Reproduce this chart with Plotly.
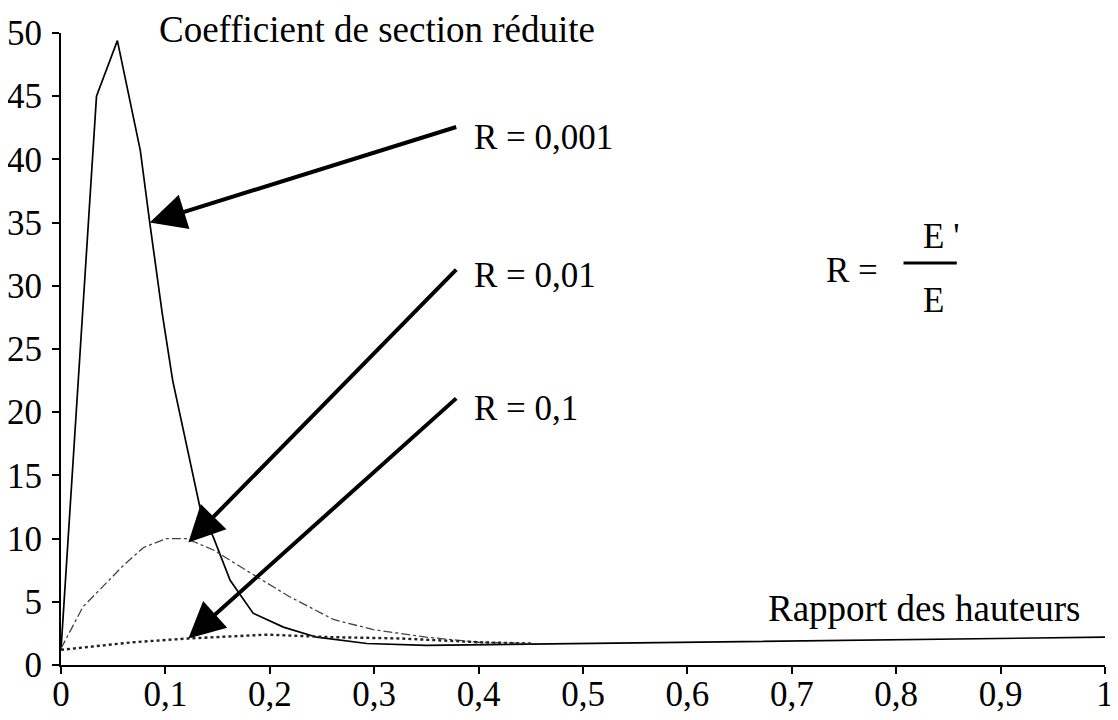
import plotly.graph_objects as go

# --- data ---
x_r0001 = [0, 0.034, 0.054, 0.076, 0.085, 0.097, 0.107, 0.119, 0.133, 0.146, 0.162, 0.184, 0.213, 0.245, 0.293, 0.35, 0.4, 0.5, 0.6, 0.7, 0.8, 0.9, 1.0]
y_r0001 = [1.2, 45, 49.4, 40.7, 35, 27.8, 22.5, 17.8, 12.5, 10.1, 6.7, 4.1, 3.0, 2.2, 1.7, 1.55, 1.6, 1.75, 1.8, 1.9, 2.0, 2.1, 2.2]

x_r001 = [0, 0.021, 0.040, 0.060, 0.079, 0.101, 0.120, 0.146, 0.187, 0.219, 0.261, 0.299, 0.35, 0.4, 0.45]
y_r001 = [1.3, 4.6, 6.2, 7.9, 9.3, 10.0, 10.0, 9.1, 7.0, 5.4, 3.6, 2.8, 2.2, 1.8, 1.7]

x_r01 = [0, 0.069, 0.122, 0.197, 0.26, 0.325, 0.4, 0.45]
y_r01 = [1.2, 1.8, 2.1, 2.4, 2.2, 2.1, 1.8, 1.7]

x_ticks = [0, 0.1, 0.2, 0.3, 0.4, 0.5, 0.6, 0.7, 0.8, 0.9, 1]
x_tick_labels = ["0", "0,1", "0,2", "0,3", "0,4", "0,5", "0,6", "0,7", "0,8", "0,9", "1"]
y_ticks = [0, 5, 10, 15, 20, 25, 30, 35, 40, 45, 50]

labels = ["R = 0,001", "R = 0,01", "R = 0,1"]
# arrow head (x, y) and tail (x, y) in data units
arrow_heads = [(0.085, 35.0), (0.122, 9.7), (0.122, 2.1)]
arrow_tails = [(0.380, 42.6), (0.380, 31.4), (0.380, 21.2)]
label_pos = [(0.394, 41.7), (0.394, 30.8), (0.394, 20.3)]

FONT = "Liberation Serif, Times New Roman, serif"
FS = 35
FS_T = 37

fig = go.Figure()
fig.add_trace(go.Scatter(x=x_r0001, y=y_r0001, mode="lines",
                         line=dict(color="black", width=1.7), showlegend=False))
fig.add_trace(go.Scatter(x=x_r001, y=y_r001, mode="lines",
                         line=dict(color="#444444", width=1.3, dash="dashdot"), showlegend=False))
fig.add_trace(go.Scatter(x=x_r01, y=y_r01, mode="lines",
                         line=dict(color="#222222", width=2.4, dash="dot"), showlegend=False))

for (hx, hy), (tx, ty) in zip(arrow_heads, arrow_tails):
    fig.add_annotation(x=hx, y=hy, ax=tx, ay=ty, xref="x", yref="y", axref="x", ayref="y",
                       text="", showarrow=True, arrowhead=2, arrowsize=1.8, arrowwidth=4,
                       arrowcolor="black")
for lab, (lx, ly) in zip(labels, label_pos):
    fig.add_annotation(x=lx, y=ly, xref="x", yref="y", text=lab, showarrow=False,
                       xanchor="left", yanchor="middle", font=dict(family=FONT, size=FS, color="black"))

# Formula R = E'/E
fig.add_annotation(x=0.758, y=31.25, xref="x", yref="y", text="R =", showarrow=False,
                   xanchor="center", yanchor="middle", font=dict(family=FONT, size=FS, color="black"))
fig.add_annotation(x=0.843, y=33.9, xref="x", yref="y", text="E '", showarrow=False,
                   xanchor="center", yanchor="middle", font=dict(family=FONT, size=FS, color="black"))
fig.add_annotation(x=0.836, y=28.8, xref="x", yref="y", text="E", showarrow=False,
                   xanchor="center", yanchor="middle", font=dict(family=FONT, size=FS, color="black"))
fig.add_shape(type="line", x0=0.807, x1=0.858, y0=31.8, y1=31.8, xref="x", yref="y",
              line=dict(color="black", width=3))

# Axis titles as free text
fig.add_annotation(x=0.092, y=1.006, xref="x", yref="paper", text="Coefficient de section réduite",
                   showarrow=False, xanchor="left", yanchor="middle",
                   font=dict(family=FONT, size=FS_T, color="black"))
fig.add_annotation(x=0.978, y=4.5, xref="x", yref="y", text="Rapport des hauteurs",
                   showarrow=False, xanchor="right", yanchor="middle",
                   font=dict(family=FONT, size=FS_T, color="black"))

axis_common = dict(showgrid=False, zeroline=False, showline=True, linecolor="black", linewidth=2,
                   ticks="outside", ticklen=7, tickwidth=2, tickcolor="black", automargin=False,
                   tickfont=dict(family=FONT, size=FS, color="black"))

# page body has an 8px default margin, so margins are offset to land the plot area
# at the same place as in the reference
fig.update_layout(
    width=1118, height=720,
    margin=dict(l=53, r=21, t=25, b=63),
    paper_bgcolor="white", plot_bgcolor="white",
    xaxis=dict(range=[0, 1], tickvals=x_ticks, ticktext=x_tick_labels, ticklabelstandoff=-10,
               **axis_common),
    yaxis=dict(range=[0, 50], tickvals=y_ticks, ticklabelstandoff=3, **axis_common),
    xaxis2=dict(range=[0, 1], overlaying="x", tickvals=x_ticks, showticklabels=False,
                showgrid=False, zeroline=False, showline=False, ticks="inside", ticklen=7,
                tickwidth=2, tickcolor="black", side="bottom", anchor="y", automargin=False),
    yaxis2=dict(range=[0, 50], overlaying="y", tickvals=y_ticks, showticklabels=False,
                showgrid=False, zeroline=False, showline=False, ticks="inside", ticklen=7,
                tickwidth=2, tickcolor="black", side="left", anchor="x", automargin=False),
    showlegend=False,
)

fig.write_html("out.html")
